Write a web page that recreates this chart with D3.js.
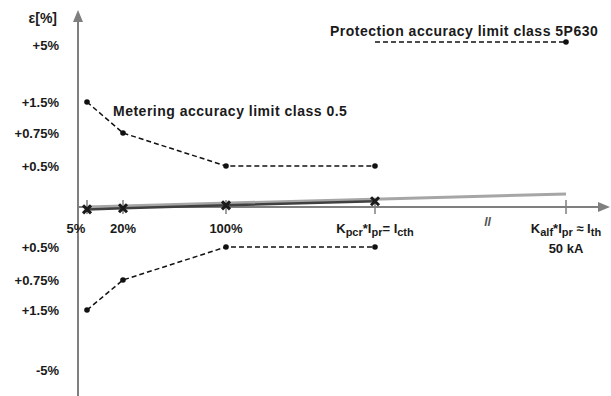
<!DOCTYPE html>
<html><head><meta charset="utf-8">
<script src="https://cdn.jsdelivr.net/npm/d3@7"></script>
<style>
html,body{margin:0;padding:0;background:#fff;}
text{font-family:"Liberation Sans",Arial,sans-serif;font-weight:bold;fill:#1a1a1a;}
</style></head>
<body>
<svg id="c" width="611" height="396"></svg>
<script>
// ---- data ----
const xCategories = ["5%", "20%", "100%", "Kpcr", "Kalf"];
const meteringCats = ["5%", "20%", "100%", "Kpcr"];
const meteringUpper = [1.5, 0.75, 0.5, 0.5];
const meteringLower = [-1.5, -0.75, -0.5, -0.5];
const protectionCats = ["Kpcr", "Kalf"];
const protectionLimit = [5, 5];
const measuredCats = ["5%", "20%", "100%", "Kpcr"];
const measuredError = [-0.03, -0.015, 0.02, 0.07];
const extrapCats = ["5%", "Kalf"];
const extrapError = [0.0, 0.16];
const yTickValues = [5, 1.5, 0.75, 0.5, -0.5, -0.75, -1.5, -5];
const yTickLabels = ["+5%", "+1.5%", "+0.75%", "+0.5%", "+0.5%", "+0.75%", "+1.5%", "-5%"];

// ---- layout ----
const svg = d3.select("#c");
const axisX0 = 78, axisY0 = 207;
const xIndex = d3.scaleOrdinal().domain(xCategories).range(d3.range(xCategories.length));
const xs = d3.scaleLinear().domain([0, 1, 2, 3, 4]).range([87, 123, 226, 375, 566]);
const x = c => xs(xIndex(c));
const y = d3.scaleLinear()
  .domain([-5, -1.5, -0.75, -0.5, 0, 0.5, 0.75, 1.5, 5])
  .range([370, 310, 280, 247, axisY0, 166, 133, 102, 42]);

const gray = "#7f7f7f";
// axes
svg.append("line").attr("x1", axisX0).attr("x2", axisX0).attr("y1", 20).attr("y2", 396)
  .attr("stroke", gray).attr("stroke-width", 2);
svg.append("path").attr("d", `M${axisX0-5},22 L${axisX0},10 L${axisX0+5},22 Z`).attr("fill", gray);
svg.append("line").attr("x1", axisX0).attr("x2", 600).attr("y1", axisY0).attr("y2", axisY0)
  .attr("stroke", gray).attr("stroke-width", 2);
svg.append("path").attr("d", `M598,${axisY0-5} L610,${axisY0} L598,${axisY0+5} Z`).attr("fill", gray);

// x ticks
svg.selectAll("line.xt").data(xCategories).enter().append("line")
  .attr("x1", d => x(d)).attr("x2", d => x(d))
  .attr("y1", axisY0 - 7).attr("y2", axisY0 + 7)
  .attr("stroke", gray).attr("stroke-width", 1.5);

// extrapolated (gray) line
const line = d3.line().x(d => x(d[0])).y(d => y(d[1]));
svg.append("path").attr("d", line(extrapCats.map((c, i) => [c, extrapError[i]])))
  .attr("fill", "none").attr("stroke", "#a6a6a6").attr("stroke-width", 3);
// measured line
svg.append("path").attr("d", line(measuredCats.map((c, i) => [c, measuredError[i]])))
  .attr("fill", "none").attr("stroke", "#404040").attr("stroke-width", 2.5);
// X markers
const mk = svg.selectAll("g.mk").data(measuredCats.map((c, i) => [c, measuredError[i]]))
  .enter().append("g").attr("transform", d => `translate(${x(d[0])},${y(d[1])})`);
mk.append("path").attr("d", "M-4,-4L4,4M-4,4L4,-4").attr("stroke", "#1a1a1a").attr("stroke-width", 3);

// dashed limit lines
function dashed(cats, vals, dotIdx) {
  const pts = cats.map((c, i) => [c, vals[i]]);
  svg.append("path").attr("d", line(pts)).attr("fill", "none")
    .attr("stroke", "#111").attr("stroke-width", 1.5).attr("stroke-dasharray", "5,3");
  svg.selectAll(null).data(pts.filter((p, i) => dotIdx.includes(i))).enter().append("circle")
    .attr("cx", d => x(d[0])).attr("cy", d => y(d[1])).attr("r", 2.8).attr("fill", "#111");
}
dashed(meteringCats, meteringUpper, [0, 1, 2, 3]);
dashed(meteringCats, meteringLower, [0, 1, 2, 3]);
dashed(protectionCats, protectionLimit, [1]);

// y labels
svg.selectAll("text.yl").data(yTickValues).enter().append("text")
  .attr("x", 59).attr("y", (d, i) => y(d) + (d === 5 ? 3 : 0))
  .attr("dy", "0.35em").attr("text-anchor", "end").attr("font-size", 13)
  .text((d, i) => yTickLabels[i]);
svg.append("text").attr("x", 57).attr("y", 18).attr("dy", "0.35em")
  .attr("text-anchor", "end").attr("font-size", 14).text("ε[%]");

// x labels
const xl = 228;
svg.append("text").attr("x", x("5%") - 11).attr("y", xl).attr("dy", "0.35em").attr("text-anchor", "middle").attr("font-size", 13).text("5%");
svg.append("text").attr("x", x("20%")).attr("y", xl).attr("dy", "0.35em").attr("text-anchor", "middle").attr("font-size", 13).text("20%");
svg.append("text").attr("x", x("100%")).attr("y", xl).attr("dy", "0.35em").attr("text-anchor", "middle").attr("font-size", 13).text("100%");
function subLabel(cx, cy, parts) {
  const t = svg.append("text").attr("x", cx).attr("y", cy).attr("dy", "0.35em")
    .attr("text-anchor", "middle").attr("font-size", 13);
  parts.forEach(p => {
    const ts = t.append("tspan").text(p[0]);
    if (p[1] === "sub") ts.attr("font-size", 11).attr("dy", 3);
    else if (p[1] === "up") ts.attr("dy", -3);
  });
}
subLabel(x("Kpcr"), xl, [["K"], ["pcr", "sub"], ["*I", "up"], ["pr", "sub"], ["= I", "up"], ["cth", "sub"]]);
subLabel(x("Kalf"), xl, [["K"], ["alf", "sub"], ["*I", "up"], ["pr", "sub"], [" ≈ I", "up"], ["th", "sub"]]);
svg.append("text").attr("x", x("Kalf")).attr("y", 248).attr("dy", "0.35em").attr("text-anchor", "middle").attr("font-size", 13).text("50 kA");
svg.append("text").attr("x", (x("Kpcr") + x("Kalf")) / 2 + 17).attr("y", 222).attr("dy", "0.35em")
  .attr("text-anchor", "middle").attr("font-size", 12).attr("font-style", "italic").attr("font-weight", "normal")
  .style("fill", "#555").text("ll");

// annotations
svg.append("text").attr("x", 113).attr("y", 111).attr("dy", "0.35em").attr("font-size", 14)
  .attr("letter-spacing", 0.5).text("Metering accuracy limit class 0.5");
svg.append("text").attr("x", 330).attr("y", 31).attr("dy", "0.35em").attr("font-size", 14)
  .attr("letter-spacing", 0.5).text("Protection accuracy limit class 5P630");
</script>
</body></html>
